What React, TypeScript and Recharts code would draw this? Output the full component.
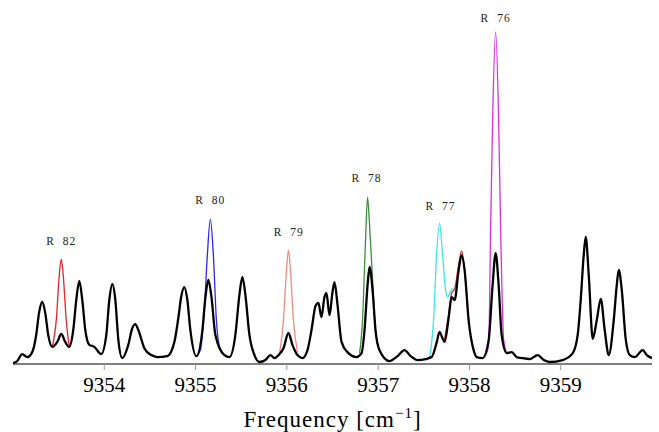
import { Label, Line, LineChart, ReferenceDot, XAxis, YAxis } from 'recharts'

// observed spectrum (black) as [frequency cm^-1, intensity]
const observed: [number, number][] = [
  [9353.0, 0.003], [9353.046, 0.009], [9353.101, 0.03], [9353.156, 0.021], [9353.211, 0.036],
  [9353.254, 0.088], [9353.287, 0.158], [9353.32, 0.188], [9353.353, 0.155], [9353.386, 0.088],
  [9353.43, 0.052], [9353.485, 0.067], [9353.529, 0.091], [9353.572, 0.067], [9353.616, 0.052],
  [9353.66, 0.103], [9353.693, 0.194], [9353.726, 0.252], [9353.759, 0.194], [9353.792, 0.103],
  [9353.836, 0.058], [9353.89, 0.052], [9353.967, 0.03], [9354.022, 0.088], [9354.055, 0.194],
  [9354.088, 0.242], [9354.121, 0.194], [9354.154, 0.073], [9354.197, 0.018], [9354.263, 0.058],
  [9354.307, 0.109], [9354.34, 0.121], [9354.373, 0.103], [9354.439, 0.048], [9354.515, 0.027],
  [9354.581, 0.021], [9354.691, 0.024], [9354.768, 0.067], [9354.811, 0.139], [9354.844, 0.206],
  [9354.877, 0.233], [9354.91, 0.194], [9354.943, 0.103], [9355.009, 0.024], [9355.075, 0.103],
  [9355.107, 0.2], [9355.14, 0.255], [9355.173, 0.206], [9355.217, 0.088], [9355.316, 0.027],
  [9355.371, 0.021], [9355.436, 0.088], [9355.48, 0.209], [9355.513, 0.264], [9355.546, 0.209],
  [9355.59, 0.088], [9355.645, 0.027], [9355.7, 0.006], [9355.765, 0.012], [9355.82, 0.027],
  [9355.864, 0.018], [9355.919, 0.03], [9355.963, 0.048], [9356.018, 0.094], [9356.061, 0.058],
  [9356.116, 0.027], [9356.171, 0.018], [9356.226, 0.042], [9356.27, 0.103], [9356.314, 0.176],
  [9356.346, 0.185], [9356.379, 0.142], [9356.412, 0.203], [9356.434, 0.215], [9356.467, 0.148],
  [9356.5, 0.218], [9356.522, 0.248], [9356.555, 0.179], [9356.599, 0.067], [9356.664, 0.036],
  [9356.763, 0.021], [9356.818, 0.033], [9356.851, 0.103], [9356.884, 0.239], [9356.906, 0.294],
  [9356.939, 0.224], [9356.971, 0.103], [9357.015, 0.042], [9357.125, 0.009], [9357.213, 0.024],
  [9357.289, 0.042], [9357.355, 0.024], [9357.432, 0.012], [9357.52, 0.015], [9357.586, 0.021],
  [9357.64, 0.064], [9357.673, 0.097], [9357.695, 0.085], [9357.728, 0.067], [9357.772, 0.139],
  [9357.805, 0.203], [9357.838, 0.194], [9357.882, 0.285], [9357.914, 0.33], [9357.947, 0.285],
  [9357.991, 0.133], [9358.046, 0.042], [9358.079, 0.021], [9358.145, 0.018], [9358.211, 0.073],
  [9358.254, 0.239], [9358.287, 0.336], [9358.32, 0.239], [9358.353, 0.088], [9358.408, 0.033],
  [9358.463, 0.036], [9358.518, 0.021], [9358.572, 0.018], [9358.66, 0.015], [9358.748, 0.027],
  [9358.814, 0.012], [9358.879, 0.006], [9359.022, 0.012], [9359.132, 0.033], [9359.186, 0.088],
  [9359.219, 0.194], [9359.252, 0.33], [9359.274, 0.385], [9359.307, 0.27], [9359.351, 0.076],
  [9359.395, 0.133], [9359.439, 0.197], [9359.482, 0.103], [9359.526, 0.027], [9359.581, 0.133],
  [9359.614, 0.239], [9359.636, 0.285], [9359.669, 0.224], [9359.713, 0.073], [9359.757, 0.027],
  [9359.811, 0.021], [9359.899, 0.042], [9359.943, 0.027], [9360.0, 0.018],
]

// simulated lines, only where they differ from the observed trace
const simR82: [number, number][] = [
  [9353.43, 0.052], [9353.474, 0.133], [9353.507, 0.27], [9353.529, 0.318],
  [9353.55, 0.27], [9353.583, 0.133], [9353.616, 0.052],
]
const simRedShoulder: [number, number][] = [
  [9357.728, 0.075], [9357.772, 0.15], [9357.805, 0.215], [9357.838, 0.228],
  [9357.882, 0.3], [9357.914, 0.342], [9357.947, 0.285], [9357.991, 0.133],
]
const simR80: [number, number][] = [
  [9355.009, 0.024], [9355.053, 0.042], [9355.096, 0.164], [9355.129, 0.33], [9355.162, 0.439],
  [9355.195, 0.33], [9355.228, 0.133], [9355.272, 0.042], [9355.316, 0.027],
]
const simR79: [number, number][] = [
  [9355.919, 0.03], [9355.963, 0.133], [9355.996, 0.285], [9356.018, 0.345],
  [9356.039, 0.285], [9356.072, 0.133], [9356.116, 0.036],
]
const simR78: [number, number][] = [
  [9356.796, 0.033], [9356.829, 0.133], [9356.862, 0.376], [9356.884, 0.506],
  [9356.906, 0.421], [9356.939, 0.255], [9356.971, 0.103], [9357.015, 0.042],
]
const simR77: [number, number][] = [
  [9357.564, 0.021], [9357.607, 0.133], [9357.64, 0.33], [9357.673, 0.427], [9357.706, 0.33],
  [9357.739, 0.224], [9357.761, 0.203], [9357.794, 0.221], [9357.816, 0.23],
]
const simR76: [number, number][] = [
  [9358.178, 0.027], [9358.211, 0.058], [9358.232, 0.406], [9358.254, 0.739], [9358.287, 1.006],
  [9358.32, 0.739], [9358.342, 0.406], [9358.375, 0.073], [9358.408, 0.033],
]

const xTicks = [9354, 9355, 9356, 9357, 9358, 9359]

const peakLabels = [
  { name: 'R 82', f: 9353.529, v: 0.373 },
  { name: 'R 80', f: 9355.162, v: 0.497 },
  { name: 'R 79', f: 9356.02, v: 0.4 },
  { name: 'R 78', f: 9356.873, v: 0.564 },
  { name: 'R 77', f: 9357.684, v: 0.479 },
  { name: 'R 76', f: 9358.287, v: 1.048 },
]

const pts = (arr: [number, number][]) => arr.map(([f, v]) => ({ f, v }))

const SERIF = '"Liberation Serif", "Times New Roman", Tinos, "DejaVu Serif", "Noto Serif", serif'

const simLines = [
  { key: 'r82', data: simR82, color: '#e3262e' },
  { key: 'red2', data: simRedShoulder, color: '#e3262e' },
  { key: 'r80', data: simR80, color: '#2a2ae6' },
  { key: 'r79', data: simR79, color: '#f08a80' },
  { key: 'r78', data: simR78, color: '#3c8f3c' },
  { key: 'r77', data: simR77, color: '#3ee6e6' },
  { key: 'r76', data: simR76, color: '#dd2ee0' },
]

const XTick = (props: any) => {
  const { x, y, payload } = props
  return (
    <text x={x} y={y + 15} textAnchor="middle" fill="#000" fontSize={21} fontFamily={SERIF}>
      {payload.value}
    </text>
  )
}

export default function App() {
  return (
    <div style={{ position: 'absolute', left: 0, top: 0, background: '#fff', fontFamily: SERIF }}>
      <LineChart
        width={659}
        height={432}
        margin={{ top: 10, right: 7, bottom: 0, left: 13 }}
        style={{ fontFamily: SERIF }}
      >
        <XAxis
          dataKey="f"
          type="number"
          domain={[9353, 9360]}
          ticks={xTicks}
          allowDataOverflow
          height={68}
          stroke="#000"
          tickSize={6}
          tickMargin={7}
          tickLine={{ stroke: '#999' }}
          tick={<XTick />}
        >
          <Label
            content={(props: any) => {
              const vb = props.viewBox || { x: 13, y: 364, width: 639 }
              return (
                <text
                  x={vb.x + vb.width / 2}
                  y={vb.y + 63}
                  textAnchor="middle"
                  fontSize={23}
                  letterSpacing={1}
                  fill="#000"
                  fontFamily={SERIF}
                >
                  Frequency [cm
                  <tspan dy={-9} fontSize={15}>
                    −1
                  </tspan>
                  <tspan dy={9}>]</tspan>
                </text>
              )
            }}
          />
        </XAxis>
        <YAxis hide domain={[0, 1.073]} allowDataOverflow />
        {simLines.map((s) => (
          <Line
            key={s.key}
            data={pts(s.data)}
            dataKey="v"
            type="monotone"
            stroke={s.color}
            strokeWidth={1.3}
            dot={false}
            isAnimationActive={false}
          />
        ))}
        <Line
          data={pts(observed)}
          dataKey="v"
          type="monotone"
          stroke="#000"
          strokeWidth={2.3}
          dot={false}
          isAnimationActive={false}
        />
        {peakLabels.map((p) => (
          <ReferenceDot
            key={p.name}
            x={p.f}
            y={p.v}
            r={0}
            ifOverflow="visible"
            shape={(props: any) => (
              <text
                x={props.cx}
                y={props.cy}
                textAnchor="middle"
                dominantBaseline="central"
                fontSize={11.5}
                letterSpacing={1}
                wordSpacing={4}
                fill="#222"
                fontFamily={SERIF}
              >
                {p.name}
              </text>
            )}
          />
        ))}
      </LineChart>
    </div>
  )
}
